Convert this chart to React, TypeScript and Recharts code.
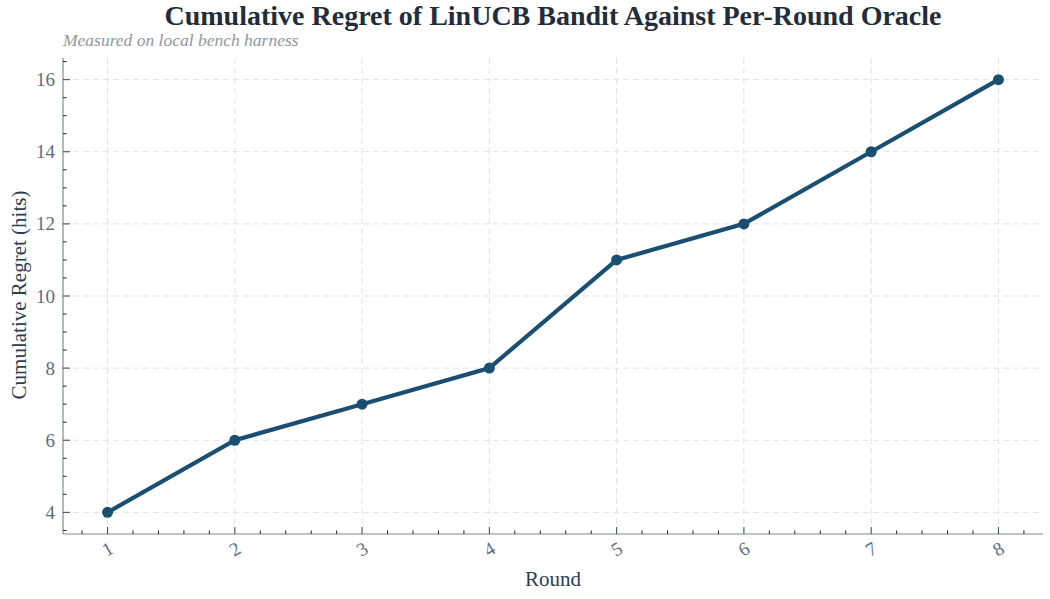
import React from "react";
import { LineChart, Line, XAxis, YAxis, CartesianGrid } from "recharts";

const rounds = [1, 2, 3, 4, 5, 6, 7, 8];
const regret = [4, 6, 7, 8, 11, 12, 14, 16];
const yMajorTicks = [4, 6, 8, 10, 12, 14, 16];

const X_DOMAIN: [number, number] = [0.65, 8.35];
const Y_DOMAIN: [number, number] = [3.4, 16.6];

// minor ticks: 0.2 steps on x, 0.5 steps on y
const minorTicks = (from: number, to: number, step: number) => {
  const out: number[] = [];
  for (let v = from; v <= to + 1e-9; v += step) out.push(Math.round(v * 10) / 10);
  return out;
};
const xAllTicks = minorTicks(0.8, 8.2, 0.2);
const yAllTicks = minorTicks(3.5, 16.5, 0.5);

const data = rounds.map((r, i) => ({ round: r, regret: regret[i] }));

const FONT = '"Liberation Serif", "Times New Roman", serif';
const LINE_COLOR = "#1b4f72";
const TICK_LABEL = "#5d6d7e";
const MAJOR_TICK = "#34495e";
const MINOR_TICK = "#222";
const SPINE = "#7f8c8d";

const isMajorX = (v: number) => Number.isInteger(v);
const isMajorY = (v: number) => Number.isInteger(v) && v % 2 === 0;

const BottomTick = (props: any) => {
  const { x, y, payload } = props;
  const v = payload.value;
  const major = isMajorX(v);
  const ty = y + 15;
  return (
    <g>
      <line x1={x} x2={x} y1={y} y2={y - (major ? 7 : 3.5)} stroke={major ? MAJOR_TICK : MINOR_TICK} strokeWidth={1} />
      {major && (
        <text
          x={x}
          y={ty}
          textAnchor="middle"
          dominantBaseline="central"
          transform={`rotate(-30, ${x}, ${ty})`}
          fill={TICK_LABEL}
          fontSize={19}
          fontFamily={FONT}
        >
          {v}
        </text>
      )}
    </g>
  );
};

const LeftTick = (props: any) => {
  const { x, y, payload } = props;
  const v = payload.value;
  const major = isMajorY(v);
  return (
    <g>
      <line x1={x} x2={x + (major ? 7 : 3.5)} y1={y} y2={y} stroke={major ? MAJOR_TICK : MINOR_TICK} strokeWidth={1} />
      {major && (
        <text x={x - 8} y={y} textAnchor="end" dominantBaseline="central" fill={TICK_LABEL} fontSize={19} fontFamily={FONT}>
          {v}
        </text>
      )}
    </g>
  );
};

const TopTick = (props: any) => {
  const { x, y, payload } = props;
  const major = isMajorX(payload.value);
  return <line x1={x} x2={x} y1={y} y2={y + (major ? 7 : 3.5)} stroke={major ? MAJOR_TICK : MINOR_TICK} strokeWidth={1} />;
};

const RightTick = (props: any) => {
  const { x, y, payload } = props;
  const major = isMajorY(payload.value);
  return <line x1={x} x2={x - (major ? 7 : 3.5)} y1={y} y2={y} stroke={major ? MAJOR_TICK : MINOR_TICK} strokeWidth={1} />;
};

export default function App() {
  return (
    <div style={{ position: "absolute", left: 0, top: 0, width: 1050, height: 599, background: "#fff" }}>
      <LineChart width={1050} height={599} data={data} margin={{ top: 58, right: 7, bottom: 0, left: 0 }}>
        <CartesianGrid
          xAxisId="x"
          yAxisId="y"
          stroke="#dde3e8"
          strokeDasharray="6 4"
          verticalValues={rounds}
          horizontalValues={yMajorTicks}
        />
        <XAxis
          xAxisId="x"
          dataKey="round"
          type="number"
          domain={X_DOMAIN}
          allowDataOverflow
          ticks={xAllTicks}
          interval={0}
          height={65}
          tickSize={0}
          tickMargin={0}
          tickLine={false}
          axisLine={{ stroke: SPINE, strokeWidth: 1.2 }}
          tick={BottomTick}
        />
        <XAxis
          xAxisId="top"
          orientation="top"
          type="number"
          domain={X_DOMAIN}
          allowDataOverflow
          ticks={xAllTicks}
          interval={0}
          height={0}
          tickSize={0}
          tickMargin={0}
          tickLine={false}
          axisLine={false}
          tick={TopTick}
        />
        <YAxis
          yAxisId="y"
          type="number"
          domain={Y_DOMAIN}
          allowDataOverflow
          ticks={yAllTicks}
          interval={0}
          width={63}
          tickSize={0}
          tickMargin={0}
          tickLine={false}
          axisLine={{ stroke: SPINE, strokeWidth: 1.2 }}
          tick={LeftTick}
        />
        <YAxis
          yAxisId="right"
          orientation="right"
          type="number"
          domain={Y_DOMAIN}
          allowDataOverflow
          ticks={yAllTicks}
          interval={0}
          width={0}
          tickSize={0}
          tickMargin={0}
          tickLine={false}
          axisLine={false}
          tick={RightTick}
        />
        <Line
          xAxisId="x"
          yAxisId="y"
          type="linear"
          dataKey="regret"
          stroke={LINE_COLOR}
          strokeWidth={4.2}
          dot={{ r: 5.5, fill: LINE_COLOR, stroke: LINE_COLOR, strokeWidth: 0 }}
          activeDot={false}
          isAnimationActive={false}
        />
      </LineChart>
      <svg
        width={1050}
        height={599}
        style={{ position: "absolute", left: 0, top: 0, pointerEvents: "none" }}
      >
        <text x={553} y={24.5} textAnchor="middle" fontFamily={FONT} fontWeight="bold" fontSize={28} fill="#1f2d3d">
          Cumulative Regret of LinUCB Bandit Against Per-Round Oracle
        </text>
        <text x={63} y={46} fontFamily={FONT} fontStyle="italic" fontSize={17.5} fill="#8e989f">
          Measured on local bench harness
        </text>
        <text
          x={19}
          y={295}
          textAnchor="middle"
          dominantBaseline="central"
          transform="rotate(-90, 19, 295)"
          fontFamily={FONT}
          fontSize={21}
          fill="#2c3e50"
        >
          Cumulative Regret (hits)
        </text>
        <text x={553} y={586} textAnchor="middle" fontFamily={FONT} fontSize={21} fill="#2c3e50">
          Round
        </text>
      </svg>
    </div>
  );
}
